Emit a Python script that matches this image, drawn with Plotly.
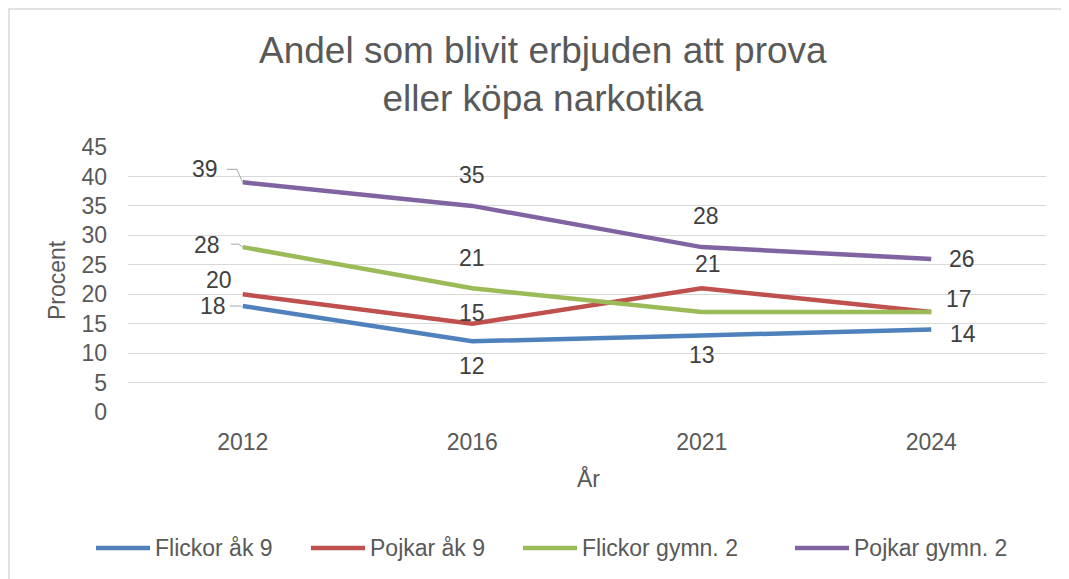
import plotly.graph_objects as go

years = ["2012", "2016", "2021", "2024"]
series_names = ["Flickor åk 9", "Pojkar åk 9", "Flickor gymn. 2", "Pojkar gymn. 2"]
flickor_ak9 = [18, 12, 13, 14]
pojkar_ak9 = [20, 15, 21, 17]
flickor_gymn2 = [28, 21, 17, 17]
pojkar_gymn2 = [39, 35, 28, 26]
y_ticks = [0, 5, 10, 15, 20, 25, 30, 35, 40, 45]

series_values = [flickor_ak9, pojkar_ak9, flickor_gymn2, pojkar_gymn2]
colors = ["#4F81BD", "#C0504D", "#9BBB59", "#8064A2"]

# ---- styling / layout (screen pixels of the reference) ----
PLOT_L, PLOT_R, PLOT_T, PLOT_B = 128, 1046, 147, 412
BODY = 8  # browser body margin
W, H = 1069, 579


def px(x):
    return (x - PLOT_L) / (PLOT_R - PLOT_L)


def py(y):
    return (PLOT_B - y) / (PLOT_B - PLOT_T)


# label offsets in pixels (dx, dy-up); None = label hidden
label_offsets = [
    [(-30, 0), (0, -25), (0, -20), (32, -4)],
    [(-24, 14), (0, 11), (6, 24), (28, 13)],
    [(-36, 2), (0, 30), None, None],
    [(-38, 13), (0, 31), (4, 31), (31, 0)],
]
# leader lines (pixel path relative to the point)
leaders = {
    (0, 0): "M-13,0 L-1,0",
    (2, 0): "M-12,3 L-4,3 L0,0",
    (3, 0): "M-16,13 L-6,13 L0,0",
}
legend_x = [96, 311, 523, 795]
legend_y = 548
legend_len = 54

FONT = "Liberation Sans, Arial, sans-serif"
GRAY = "#595959"
FS = 23

fig = go.Figure()
for name, vals, col in zip(series_names, series_values, colors):
    fig.add_trace(go.Scatter(x=years, y=vals, name=name, mode="lines",
                             line=dict(color=col, width=4.5), showlegend=False))

annotations = []
shapes = []
for si, vals in enumerate(series_values):
    for pi, v in enumerate(vals):
        off = label_offsets[si][pi]
        if off is None:
            continue
        annotations.append(dict(x=pi, y=v, xref="x", yref="y", text=str(v),
                                showarrow=False, xshift=off[0], yshift=off[1],
                                font=dict(family=FONT, size=FS, color="#404040")))
        if (si, pi) in leaders:
            shapes.append(dict(type="path", xref="x", yref="y",
                               xsizemode="pixel", ysizemode="pixel",
                               xanchor=pi, yanchor=v,
                               path=leaders[(si, pi)],
                               line=dict(color="#A6A6A6", width=1)))

# manual legend
for name, col, lx in zip(series_names, colors, legend_x):
    shapes.append(dict(type="line", xref="paper", yref="paper",
                       x0=px(lx), x1=px(lx + legend_len), y0=py(legend_y), y1=py(legend_y),
                       line=dict(color=col, width=4.5)))
    annotations.append(dict(x=px(lx + legend_len + 3), y=py(legend_y), xref="paper", yref="paper",
                            text=name, showarrow=False, xanchor="left", yanchor="middle",
                            font=dict(family=FONT, size=FS, color=GRAY)))

# title
annotations.append(dict(x=px(543), y=py(74), xref="paper", yref="paper",
                        text="Andel som blivit erbjuden att prova<br>eller köpa narkotika",
                        showarrow=False, xanchor="center", yanchor="middle",
                        font=dict(family=FONT, size=37, color=GRAY)))
# axis titles
annotations.append(dict(x=px(57), y=py(280), xref="paper", yref="paper", text="Procent",
                        showarrow=False, textangle=-90, xanchor="center", yanchor="middle",
                        font=dict(family=FONT, size=FS, color=GRAY)))
annotations.append(dict(x=px(588), y=py(478), xref="paper", yref="paper", text="År",
                        showarrow=False, xanchor="center", yanchor="middle",
                        font=dict(family=FONT, size=FS, color=GRAY)))

# chart border
shapes.append(dict(type="rect", xref="paper", yref="paper",
                   x0=px(9), y0=py(9), x1=px(1100), y1=py(620),
                   line=dict(color="#D9D9D9", width=1.5), layer="below"))

fig.update_layout(
    width=W, height=H,
    margin=dict(l=PLOT_L - BODY, r=W - (PLOT_R - BODY), t=PLOT_T - BODY, b=H - (PLOT_B - BODY)),
    paper_bgcolor="white", plot_bgcolor="white",
    showlegend=False,
    annotations=annotations,
    shapes=shapes,
    font=dict(family=FONT, color=GRAY),
)
fig.update_xaxes(type="category", range=[-0.5, 3.5], showgrid=False, showline=False,
                 zeroline=False, ticks="", ticklabelstandoff=14,
                 tickfont=dict(family=FONT, size=FS, color=GRAY))
fig.update_yaxes(range=[0, 45], tickvals=y_ticks, showgrid=True, gridcolor="#D9D9D9",
                 gridwidth=1, zeroline=False, showline=False, ticks="",
                 ticklabelstandoff=20,
                 tickfont=dict(family=FONT, size=FS, color=GRAY))

fig.write_html("out.html")
